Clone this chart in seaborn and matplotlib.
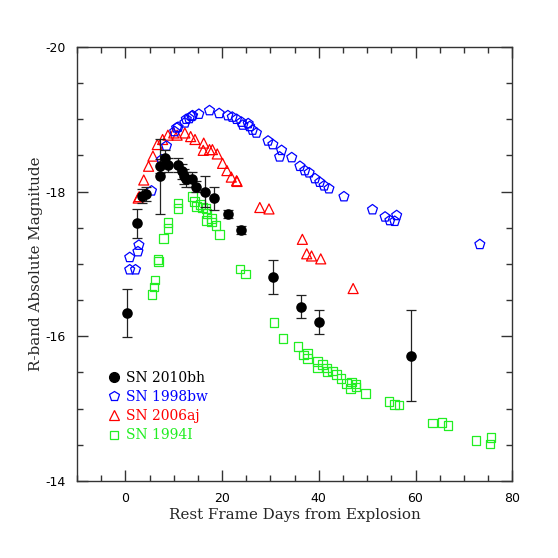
import numpy as np
import pandas as pd
import matplotlib
matplotlib.use("Agg")
import matplotlib.pyplot as plt
import seaborn as sns
from matplotlib.ticker import MultipleLocator
from matplotlib.lines import Line2D

# SN 2010bh (filled circles, with error bars)
bh_days = [0.3, 2.5, 3.5, 4.2, 7.1, 7.2, 8.1, 8.8, 10.9, 11.8, 12.1, 12.6, 13.7,
           14.7, 16.4, 18.3, 21.2, 24.0, 30.5, 36.4, 40.1, 59.0]
bh_mag = [-16.32, -17.56, -17.94, -17.97, -18.21, -18.35, -18.46, -18.37, -18.37,
          -18.28, -18.21, -18.17, -18.17, -18.07, -18.00, -17.91, -17.69, -17.47,
          -16.82, -16.41, -16.20, -15.73]
bh_err = [0.33, 0.20, 0.10, 0.10, 0.52, 0.10, 0.12, 0.10, 0.10, 0.10, 0.10, 0.10,
          0.10, 0.08, 0.22, 0.16, 0.06, 0.06, 0.23, 0.16, 0.17, 0.63]

# SN 1998bw (open pentagons)
bw_days = [0.9, 2.1, 0.9, 2.6, 2.8, 5.4, 7.5, 8.5, 10.2, 10.6, 10.9, 12.3, 12.6,
           13.2, 13.7, 13.9, 15.2, 17.4, 19.4, 21.2, 22.1, 23.0, 24.0, 24.3, 25.4,
           25.7, 26.3, 27.1, 29.5, 30.5, 32.3, 31.9, 34.4, 36.1, 37.1, 38.0, 39.2,
           40.2, 41.1, 42.1, 45.2, 51.1, 53.7, 54.7, 55.7, 56.1, 73.3]
bw_mag = [-16.92, -16.92, -17.09, -17.17, -17.26, -18.01, -18.44, -18.63, -18.83,
          -18.88, -18.89, -18.95, -19.00, -19.01, -19.04, -19.05, -19.07, -19.12,
          -19.08, -19.05, -19.03, -19.00, -18.96, -18.92, -18.94, -18.90, -18.85,
          -18.81, -18.70, -18.65, -18.57, -18.48, -18.47, -18.35, -18.29, -18.26,
          -18.18, -18.13, -18.08, -18.04, -17.93, -17.75, -17.65, -17.60, -17.59,
          -17.67, -17.27]

# SN 2006aj (open triangles)
aj_days = [2.65, 2.86, 3.8, 4.8, 5.7, 6.6, 7.7, 8.8, 10.0, 10.7, 12.3, 13.5, 14.4,
           16.2, 16.1, 17.4, 18.0, 19.0, 20.1, 21.0, 21.9, 23.0, 23.1, 27.8, 29.7,
           36.6, 37.5, 38.5, 40.4, 47.1]
aj_mag = [-17.91, -17.93, -18.16, -18.35, -18.49, -18.65, -18.72, -18.78, -18.81,
          -18.78, -18.81, -18.76, -18.72, -18.67, -18.57, -18.58, -18.58, -18.52,
          -18.39, -18.29, -18.20, -18.15, -18.14, -17.78, -17.76, -17.34, -17.14,
          -17.11, -17.07, -16.66]

# SN 1994I (open squares)
i_days = [5.5, 5.9, 6.1, 6.75, 6.8, 7.9, 8.8, 8.8, 10.9, 10.9, 13.9, 14.3, 14.7,
          15.5, 15.9, 16.7, 16.9, 16.8, 17.8, 17.8, 18.7, 19.5, 23.7, 24.8, 30.7,
          32.6, 35.7, 36.8, 37.7, 37.7, 39.7, 39.7, 40.8, 41.6, 41.7, 42.8, 43.7,
          44.6, 45.7, 46.8, 46.6, 47.7, 47.7, 49.7, 54.5, 55.6, 56.6, 63.5, 65.5,
          66.7, 72.5, 75.4, 75.6]
i_mag = [-16.58, -16.68, -16.78, -17.06, -17.03, -17.35, -17.57, -17.49, -17.84,
         -17.77, -17.93, -17.86, -17.79, -17.82, -17.78, -17.77, -17.70, -17.60,
         -17.63, -17.58, -17.53, -17.41, -16.93, -16.86, -16.19, -15.97, -15.86,
         -15.74, -15.76, -15.69, -15.65, -15.56, -15.61, -15.56, -15.51, -15.52,
         -15.47, -15.42, -15.35, -15.37, -15.28, -15.34, -15.30, -15.21, -15.10,
         -15.06, -15.05, -14.80, -14.81, -14.77, -14.56, -14.51, -14.60]

labels = ["SN 2010bh", "SN 1998bw", "SN 2006aj", "SN 1994I"]
colors = ["black", "#0000ff", "#ff0000", "#22ee22"]

sns.set_style("ticks")
plt.rcParams["font.family"] = ["DejaVu Sans"]
plt.rcParams["axes.unicode_minus"] = False

fig = plt.figure(figsize=(5.58, 5.58), dpi=100)
ax = fig.add_axes([0.138, 0.138, 0.780, 0.778])

sns.scatterplot(x=i_days, y=i_mag, marker="s", s=38, facecolor="none",
                edgecolor=colors[3], linewidth=0.9, ax=ax)
sns.scatterplot(x=aj_days, y=aj_mag, marker="^", s=52, facecolor="none",
                edgecolor=colors[2], linewidth=0.9, ax=ax)
sns.scatterplot(x=bw_days, y=bw_mag, marker="p", s=56, facecolor="none",
                edgecolor=colors[1], linewidth=0.9, ax=ax)
ax.errorbar(bh_days, bh_mag, yerr=bh_err, fmt="none", ecolor="#222222",
            elinewidth=0.9, capsize=3.5, capthick=0.9, zorder=3)
sns.scatterplot(x=bh_days, y=bh_mag, marker="o", s=58, color="black",
                edgecolor="black", linewidth=0, ax=ax, zorder=4)

ax.set_xlim(-10, 80)
ax.set_ylim(-14, -20)
ax.xaxis.set_major_locator(MultipleLocator(20))
ax.xaxis.set_minor_locator(MultipleLocator(5))
ax.yaxis.set_major_locator(MultipleLocator(2))
ax.yaxis.set_minor_locator(MultipleLocator(0.5))
ax.tick_params(which="both", direction="in", top=True, right=True,
               colors="#333333", labelcolor="black")
ax.tick_params(which="major", length=8, width=1, labelsize=9, pad=8)
ax.tick_params(which="minor", length=4.5, width=1)
for sp in ax.spines.values():
    sp.set_linewidth(1)
    sp.set_color("#333333")

ax.set_xlabel("Rest Frame Days from Explosion", family="DejaVu Serif",
              fontsize=10.9, labelpad=2)
ax.set_ylabel("R-band Absolute Magnitude", family="DejaVu Serif",
              fontsize=10.9, labelpad=2)

handles = [
    Line2D([], [], ls="none", marker="o", ms=7, color="black"),
    Line2D([], [], ls="none", marker="p", ms=7, mfc="none", mec=colors[1], mew=0.9),
    Line2D([], [], ls="none", marker="^", ms=7, mfc="none", mec=colors[2], mew=0.9),
    Line2D([], [], ls="none", marker="s", ms=6, mfc="none", mec=colors[3], mew=0.9),
]
leg = ax.legend(handles, labels, loc="lower left", bbox_to_anchor=(0.04, 0.06),
                frameon=False, handlelength=1.0, handletextpad=0.4,
                labelspacing=0.38, prop={"family": "DejaVu Serif", "size": 10})
for txt, c in zip(leg.get_texts(), colors):
    txt.set_color(c)

fig.savefig("out.png", dpi=100)
